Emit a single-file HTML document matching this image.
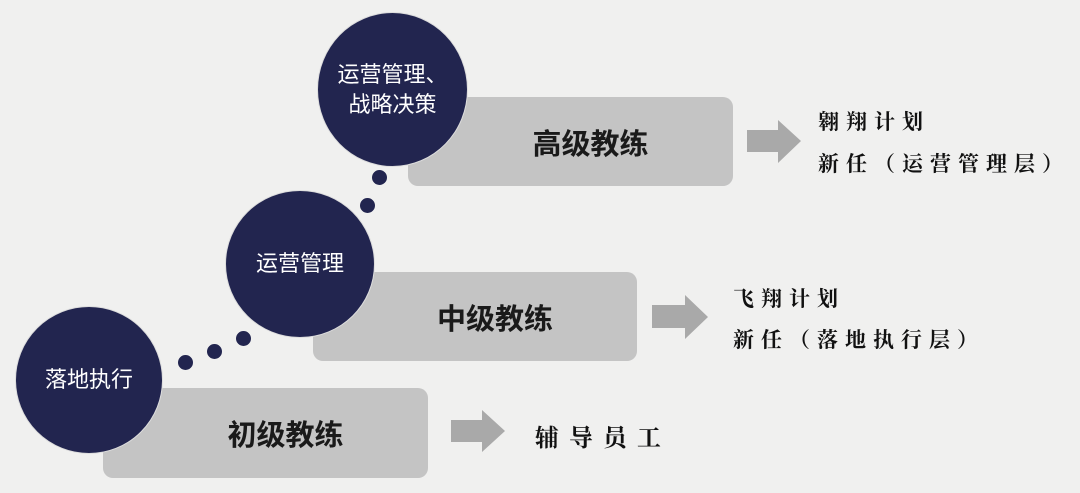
<!DOCTYPE html>
<html><head><meta charset="utf-8"><style>
body{margin:0;width:1080px;height:493px;background:#f0f0ef;position:relative;overflow:hidden;font-family:"Liberation Sans","Noto Sans CJK SC",sans-serif}
.c{position:absolute;border-radius:50%;background:#22254f;color:#fff;display:flex;align-items:center;justify-content:center;text-align:center;font-size:22px;line-height:30px;border:1px solid #ddd;box-sizing:border-box}
.b{position:absolute;background:#c4c4c4;border-radius:10px;display:flex;align-items:center;justify-content:center;font-weight:bold;font-size:29px;color:#1a1a1a}
.d{position:absolute;border-radius:50%;background:#22254f}
.t{position:absolute;font-family:"Noto Serif CJK SC","Liberation Serif",serif;font-size:21px;color:#111;letter-spacing:7px;font-weight:bold;white-space:nowrap}
</style></head><body>
<div class="b" style="left:103px;top:388px;width:325px;height:90px;padding-left:40px;box-sizing:border-box">初级教练</div>
<div class="b" style="left:313px;top:272px;width:324px;height:89px;padding-left:40px;box-sizing:border-box">中级教练</div>
<div class="b" style="left:408px;top:97px;width:325px;height:89px;padding-left:40px;box-sizing:border-box">高级教练</div>
<div class="c" style="left:15px;top:306px;width:148px;height:148px">落地执行</div>
<div class="c" style="left:225px;top:190px;width:150px;height:148px">运营管理</div>
<div class="c" style="left:317px;top:12px;width:151px;height:155px">运营管理、<br>战略决策</div>
<div class="d" style="left:178px;top:355px;width:15px;height:15px"></div>
<div class="d" style="left:207px;top:344px;width:15px;height:15px"></div>
<div class="d" style="left:236px;top:331px;width:15px;height:15px"></div>
<div class="d" style="left:360px;top:198px;width:15px;height:15px"></div>
<div class="d" style="left:372px;top:170px;width:15px;height:15px"></div>
<svg style="position:absolute;left:0;top:0" width="1080" height="493">
<polygon fill="#a9a9a9" points="451,420 482,420 482,410 505,431 482,452 482,442 451,442"/>
<polygon fill="#a9a9a9" points="652,305 685,305 685,295 708,317 685,339 685,328 652,328"/>
<polygon fill="#a9a9a9" points="747,130 778,130 778,120 801,141 778,163 778,152 747,152"/>
</svg>
<div class="t" style="left:818px;top:106px">翱翔计划</div>
<div class="t" style="left:818px;top:148px">新任（运营管理层）</div>
<div class="t" style="left:733px;top:283px">飞翔计划</div>
<div class="t" style="left:733px;top:324px">新任（落地执行层）</div>
<div class="t" style="left:535px;top:418px;font-size:24px;letter-spacing:10px">辅导员工</div>
</body></html>
